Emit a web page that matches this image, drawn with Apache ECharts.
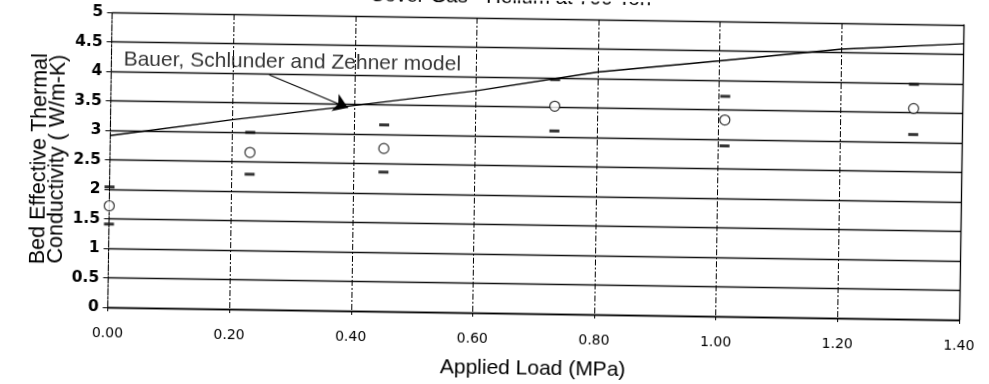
<!DOCTYPE html>
<html>
<head>
<meta charset="utf-8">
<script src="https://cdn.jsdelivr.net/npm/echarts@6/dist/echarts.min.js"></script>
<style>
  html, body { margin: 0; padding: 0; background: #fff; overflow: hidden; }
  #chart { width: 989px; height: 384px; transform: rotate(0.85deg); transform-origin: 50% 50%; }
</style>
</head>
<body>
<div id="chart"></div>
<script>
// Measured bed conductivity vs applied load, with min/max spread
const loads = [0.00, 0.23, 0.45, 0.73, 1.01, 1.32];
const meanK = [1.72, 2.66, 2.76, 3.52, 3.33, 3.57];
const upperK = [2.04, 3.00, 3.16, 3.97, 3.73, 3.98];
const lowerK = [1.41, 2.29, 2.36, 3.10, 2.89, 3.13];

// Bauer, Schlunder and Zehner model curve
const modelLoads = [0.0, 0.2, 0.4, 0.6, 0.8, 1.0, 1.2, 1.4];
const modelK = [2.91, 3.21, 3.48, 3.76, 4.11, 4.33, 4.56, 4.68];

// Annotation anchor and arrow ends, in data units
const noteAt = [0.02, 4.2];
const arrowFrom = [0.26, 3.98];
const arrowTo = [0.39, 3.44];

const titleText = 'Cover Gas - Helium at 700 Torr';
const noteText = 'Bauer, Schlunder and Zehner model';
const xName = 'Applied Load (MPa)';
const yName = 'Bed Effective Thermal\nConductivity ( W/m-K)';

const pairs = (xs, ys) => xs.map((x, i) => [x, ys[i]]);

const chart = echarts.init(document.getElementById('chart'), null, { renderer: 'canvas' });

const black = '#000';
const sansText = { fontFamily: 'Liberation Sans', color: black };

chart.setOption({
  animation: false,
  backgroundColor: '#fff',
  title: {
    text: titleText,
    left: 367,
    top: -13,
    padding: 0,
    textStyle: Object.assign({ fontSize: 20.5, fontWeight: 'normal' }, sansText)
  },
  grid: { left: 109.5, right: 28, top: 18, bottom: 70 },
  xAxis: {
    type: 'value',
    min: 0,
    max: 1.4,
    interval: 0.2,
    name: xName,
    nameLocation: 'middle',
    nameGap: 45,
    nameMoveOverlap: false,
    nameTextStyle: Object.assign({ fontSize: 21 }, sansText),
    axisLine: { show: true, onZero: false, lineStyle: { color: black, width: 1.3 } },
    axisTick: { show: true, length: 4, lineStyle: { color: black } },
    axisLabel: {
      margin: 19,
      fontFamily: 'DejaVu Sans',
      fontSize: 14,
      color: black,
      formatter: v => v.toFixed(2)
    },
    splitLine: { show: true, lineStyle: { color: black, width: 1, type: [6, 2, 2, 2] } }
  },
  yAxis: [{
    type: 'value',
    min: 0,
    max: 5,
    interval: 0.5,
    name: yName,
    nameLocation: 'middle',
    nameRotate: 90,
    nameGap: 43,
    nameMoveOverlap: false,
    nameTextStyle: Object.assign({ fontSize: 21.5, lineHeight: 18 }, sansText),
    axisLine: { show: true, lineStyle: { color: black, width: 1.1, type: [6, 2, 2, 2] } },
    axisTick: { show: true, length: 5, lineStyle: { color: black } },
    axisLabel: {
      margin: 9,
      fontFamily: 'DejaVu Sans',
      fontWeight: 'bold',
      fontSize: 15.5,
      color: black
    },
    splitLine: { show: true, lineStyle: { color: '#111', width: 1.3 } }
  }, {
    // right-hand frame edge
    type: 'value',
    position: 'right',
    min: 0,
    max: 5,
    interval: 0.5,
    axisLine: { show: true, lineStyle: { color: black, width: 1.3 } },
    axisTick: { show: false },
    axisLabel: { show: false },
    splitLine: { show: false }
  }],
  series: [
    {
      name: 'Model',
      type: 'line',
      data: pairs(modelLoads, modelK),
      symbol: 'none',
      lineStyle: { color: black, width: 1.4 },
      z: 3
    },
    {
      name: 'Upper',
      type: 'scatter',
      data: pairs(loads, upperK),
      symbol: 'rect',
      symbolSize: [10, 3],
      itemStyle: { color: black },
      z: 4
    },
    {
      name: 'Lower',
      type: 'scatter',
      data: pairs(loads, lowerK),
      symbol: 'rect',
      symbolSize: [10, 3],
      itemStyle: { color: black },
      z: 4
    },
    {
      name: 'Measured',
      type: 'scatter',
      data: pairs(loads, meanK),
      symbol: 'circle',
      symbolSize: 10,
      itemStyle: { color: '#fff', borderColor: black, borderWidth: 1.2 },
      z: 5
    },
    {
      name: 'Note',
      type: 'scatter',
      data: [noteAt],
      symbolSize: 0,
      silent: true,
      label: {
        show: true,
        position: 'right',
        distance: 0,
        formatter: noteText,
        fontSize: 21,
        fontFamily: 'Liberation Sans',
        color: black
      },
      markLine: {
        silent: true,
        symbol: ['none', 'arrow'],
        symbolSize: 14,
        label: { show: false },
        lineStyle: { color: black, width: 1.1, type: 'solid' },
        data: [[{ coord: arrowFrom }, { coord: arrowTo }]]
      },
      z: 6
    }
  ]
});
</script>
</body>
</html>
